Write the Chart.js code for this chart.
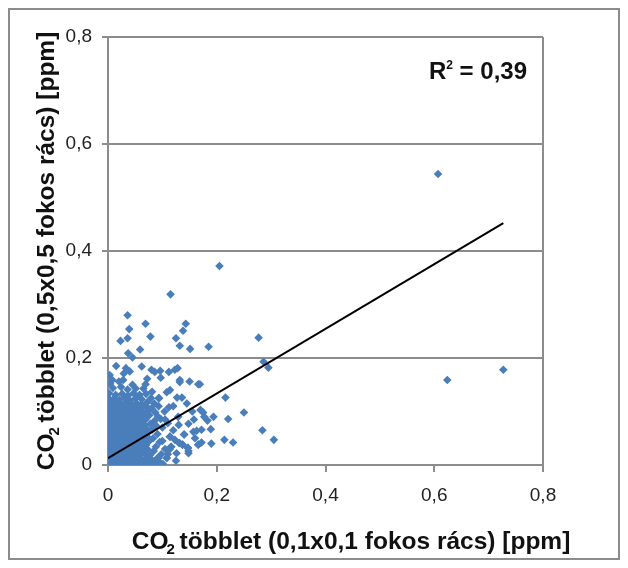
<!DOCTYPE html>
<html>
<head>
<meta charset="utf-8">
<script src="https://cdn.jsdelivr.net/npm/chart.js@4/dist/chart.umd.min.js"></script>
<style>
  body { margin: 0; background: #fff; }
  canvas { display: block; }
</style>
</head>
<body>
<canvas id="chart" width="628" height="568"></canvas>
<script>
// CO2 excess: 0.1x0.1 degree grid (x) vs 0.5x0.5 degree grid (y), ppm
const axisTicks = [0, 0.2, 0.4, 0.6, 0.8];

// dense cluster near the origin
const clusterPoints = [
    [0.001, 0.003], [0.007, 0.002], [0.013, 0.004], [0.020, 0.001], [0.026, 0.003], [0.033, 0.002], [0.041, 0.004], [0.048, 0.002], [0.056, 0.003], [0.066, 0.002], [0.075, 0.004], [0.086, 0.003], [0.094, 0.006], [0.101, 0.002],
    [0.002, 0.011], [0.008, 0.010], [0.015, 0.012], [0.021, 0.009], [0.028, 0.011], [0.035, 0.010], [0.042, 0.012], [0.049, 0.010], [0.057, 0.011], [0.064, 0.009], [0.071, 0.012], [0.080, 0.010], [0.091, 0.013], [0.108, 0.013],
    [0.001, 0.019], [0.006, 0.018], [0.012, 0.020], [0.018, 0.017], [0.025, 0.019], [0.031, 0.021], [0.038, 0.018], [0.046, 0.020], [0.053, 0.017], [0.061, 0.019], [0.069, 0.021], [0.077, 0.018], [0.098, 0.020], [0.126, 0.022], [0.148, 0.022],
    [0.003, 0.027], [0.009, 0.026], [0.016, 0.028], [0.022, 0.025], [0.029, 0.027], [0.036, 0.029], [0.043, 0.026], [0.050, 0.028], [0.058, 0.025], [0.065, 0.027], [0.073, 0.029], [0.084, 0.026], [0.105, 0.030], [0.114, 0.030],
    [0.001, 0.035], [0.007, 0.034], [0.013, 0.036], [0.020, 0.033], [0.027, 0.035], [0.034, 0.037], [0.040, 0.034], [0.047, 0.036], [0.055, 0.033], [0.062, 0.035], [0.070, 0.037], [0.088, 0.034], [0.116, 0.034], [0.137, 0.038], [0.147, 0.032],
    [0.002, 0.043], [0.008, 0.042], [0.015, 0.044], [0.022, 0.041], [0.030, 0.043], [0.037, 0.045], [0.044, 0.042], [0.051, 0.044], [0.059, 0.041], [0.067, 0.043], [0.076, 0.045], [0.095, 0.043], [0.131, 0.041], [0.166, 0.038],
    [0.001, 0.051], [0.006, 0.050], [0.012, 0.052], [0.019, 0.049], [0.026, 0.051], [0.033, 0.053], [0.040, 0.050], [0.048, 0.052], [0.055, 0.049], [0.063, 0.051], [0.072, 0.053], [0.083, 0.050], [0.114, 0.053], [0.123, 0.047],
    [0.003, 0.059], [0.009, 0.058], [0.016, 0.060], [0.023, 0.057], [0.029, 0.059], [0.036, 0.061], [0.043, 0.058], [0.051, 0.060], [0.058, 0.057], [0.066, 0.059], [0.074, 0.061], [0.091, 0.058], [0.140, 0.057], [0.157, 0.062],
    [0.001, 0.067], [0.007, 0.066], [0.014, 0.068], [0.021, 0.065], [0.028, 0.067], [0.034, 0.069], [0.041, 0.066], [0.048, 0.068], [0.056, 0.065], [0.062, 0.067], [0.070, 0.069], [0.081, 0.066], [0.100, 0.070], [0.163, 0.064], [0.172, 0.066],
    [0.002, 0.075], [0.008, 0.074], [0.015, 0.076], [0.022, 0.073], [0.030, 0.075], [0.037, 0.077], [0.044, 0.074], [0.052, 0.076], [0.059, 0.073], [0.067, 0.075], [0.078, 0.077], [0.088, 0.074], [0.110, 0.078], [0.148, 0.077],
    [0.001, 0.083], [0.006, 0.082], [0.013, 0.084], [0.019, 0.081], [0.026, 0.083], [0.033, 0.085], [0.040, 0.082], [0.047, 0.084], [0.054, 0.081], [0.061, 0.083], [0.069, 0.085], [0.085, 0.082], [0.097, 0.086],
    [0.003, 0.091], [0.009, 0.090], [0.016, 0.092], [0.023, 0.089], [0.030, 0.091], [0.037, 0.093], [0.045, 0.090], [0.052, 0.092], [0.060, 0.089], [0.068, 0.091], [0.076, 0.093], [0.092, 0.090], [0.129, 0.090],
    [0.001, 0.099], [0.008, 0.098], [0.015, 0.100], [0.021, 0.097], [0.028, 0.099], [0.035, 0.101], [0.042, 0.098], [0.050, 0.100], [0.057, 0.097], [0.064, 0.099], [0.073, 0.101], [0.087, 0.098], [0.104, 0.100],
    [0.002, 0.107], [0.007, 0.106], [0.014, 0.108], [0.020, 0.105], [0.027, 0.107], [0.034, 0.109], [0.041, 0.106], [0.049, 0.108], [0.056, 0.105], [0.063, 0.107], [0.071, 0.109], [0.080, 0.106], [0.093, 0.110], [0.112, 0.108],
    [0.001, 0.115], [0.009, 0.114], [0.017, 0.116], [0.025, 0.113], [0.033, 0.117], [0.043, 0.114], [0.052, 0.116], [0.061, 0.113], [0.072, 0.117], [0.085, 0.115], [0.094, 0.125],
    [0.003, 0.123], [0.011, 0.124], [0.021, 0.122], [0.031, 0.125], [0.040, 0.121], [0.050, 0.124], [0.062, 0.123], [0.079, 0.125], [0.093, 0.125],
    [0.002, 0.134], [0.014, 0.131], [0.026, 0.133], [0.037, 0.130], [0.047, 0.134], [0.058, 0.131], [0.070, 0.133], [0.108, 0.136], [0.127, 0.126], [0.136, 0.126],
    [0.009, 0.144], [0.024, 0.146], [0.036, 0.141], [0.051, 0.143], [0.065, 0.143], [0.081, 0.137], [0.114, 0.140],
    [0.004, 0.152], [0.020, 0.156], [0.045, 0.150], [0.069, 0.151], [0.072, 0.161], [0.028, 0.159], [0.008, 0.159], [0.132, 0.155], [0.150, 0.156], [0.166, 0.151], [0.097, 0.163], [0.132, 0.159],
    [0.029, 0.171], [0.033, 0.181], [0.062, 0.184], [0.080, 0.178], [0.096, 0.176], [0.112, 0.174], [0.123, 0.178], [0.128, 0.181], [0.086, 0.174], [0.003, 0.168], [0.015, 0.185], [0.040, 0.175]
];

// scattered points around the cluster
const spreadPoints = [
    [0.045, 0.201], [0.037, 0.209], [0.059, 0.216], [0.023, 0.232], [0.036, 0.237], [0.078, 0.240], [0.039, 0.254], [0.069, 0.264],
    [0.036, 0.280], [0.115, 0.319], [0.125, 0.237], [0.138, 0.251], [0.143, 0.264], [0.132, 0.223], [0.151, 0.217], [0.185, 0.221],
    [0.205, 0.372], [0.277, 0.238], [0.286, 0.193], [0.295, 0.182],
    [0.216, 0.126], [0.169, 0.151], [0.250, 0.098], [0.221, 0.086], [0.194, 0.090], [0.183, 0.083], [0.175, 0.098], [0.170, 0.103],
    [0.189, 0.067], [0.284, 0.065], [0.305, 0.047], [0.214, 0.047], [0.230, 0.042], [0.172, 0.042], [0.177, 0.090], [0.114, 0.053],
    [0.116, 0.034], [0.140, 0.057], [0.131, 0.041], [0.137, 0.038], [0.147, 0.032], [0.148, 0.026], [0.166, 0.038], [0.108, 0.013],
    [0.093, 0.013], [0.120, 0.110], [0.145, 0.115], [0.155, 0.100], [0.158, 0.085], [0.120, 0.065], [0.105, 0.085], [0.130, 0.075],
    [0.100, 0.045], [0.110, 0.020], [0.125, 0.008], [0.160, 0.050], [0.190, 0.040]
];

const outlierPoints = [[0.607, 0.544], [0.624, 0.159], [0.727, 0.178]];

// linear trend line end points
const trendX = [0, 0.727];
const trendY = [0.013, 0.452];
const rSquared = '0,39';

const xTitle = ['CO', '2', ' többlet (0,1x0,1 fokos rács) [ppm]'];
const yTitle = ['CO', '2', ' többlet (0,5x0,5 fokos rács) [ppm]'];

const gray = '#8c8c8c';
const blue = '#4a7ebb';
const fontFamily = '"Liberation Sans", Arial, sans-serif';

const toPoint = p => ({ x: p[0], y: p[1] });
const scatterData = clusterPoints.concat(spreadPoints, outlierPoints).map(toPoint);
const trendData = trendX.map((x, i) => ({ x: x, y: trendY[i] }));

function fmt(v) {
    return String(v).replace('.', ',');
}

// draws "CO" + subscript "2" + rest, centred on 0,0
function drawSubTitle(ctx, parts) {
    const big = 'bold 24.5px ' + fontFamily;
    const small = 'bold 15px ' + fontFamily;
    ctx.font = big;
    const w1 = ctx.measureText(parts[0]).width;
    const w3 = ctx.measureText(parts[2]).width;
    ctx.font = small;
    const w2 = ctx.measureText(parts[1]).width - 2;
    let x = -(w1 + w2 + w3) / 2;
    ctx.textAlign = 'left';
    ctx.textBaseline = 'alphabetic';
    ctx.font = big;
    ctx.fillText(parts[0], x, 9);
    x += w1 - 2;
    ctx.font = small;
    ctx.fillText(parts[1], x, 14);
    x += w2;
    ctx.font = big;
    ctx.fillText(parts[2], x, 9);
}

const textPlugin = {
    id: 'textPlugin',
    beforeDraw(chart) {
        const ctx = chart.ctx;
        ctx.save();
        ctx.strokeStyle = gray;
        ctx.lineWidth = 2;
        ctx.strokeRect(9, 9, 610, 550);
        ctx.restore();
    },
    afterDraw(chart) {
        const ctx = chart.ctx;
        const area = chart.chartArea;
        ctx.save();
        ctx.fillStyle = '#111';

        ctx.save();
        ctx.translate(352, 540);
        drawSubTitle(ctx, xTitle);
        ctx.restore();

        ctx.save();
        ctx.translate(45, 250);
        ctx.rotate(-Math.PI / 2);
        drawSubTitle(ctx, yTitle);
        ctx.restore();

        // R² label
        const big = 'bold 24px ' + fontFamily;
        const small = 'bold 12px ' + fontFamily;
        ctx.textBaseline = 'alphabetic';
        ctx.textAlign = 'left';
        ctx.font = big;
        const rest = ' = ' + rSquared;
        const wr = ctx.measureText('R').width;
        const wrest = ctx.measureText(rest).width;
        ctx.font = small;
        const w2 = ctx.measureText('2').width;
        let x = area.right - 16 - (wr + w2 + wrest);
        const y = area.top + 42;
        ctx.font = big;
        ctx.fillText('R', x, y);
        ctx.font = small;
        ctx.fillText('2', x + wr, y - 10);
        ctx.font = big;
        ctx.fillText(rest, x + wr + w2, y);
        ctx.restore();
    }
};

const tickFont = { family: fontFamily, size: 19 };

new Chart(document.getElementById('chart'), {
    type: 'scatter',
    data: {
        datasets: [
            {
                data: trendData,
                type: 'line',
                showLine: true,
                borderColor: '#000',
                borderWidth: 2,
                pointRadius: 0,
                fill: false,
                order: 1
            },
            {
                data: scatterData,
                pointStyle: 'rectRot',
                pointRadius: 4.3,
                backgroundColor: blue,
                borderColor: blue,
                borderWidth: 0,
                order: 2
            }
        ]
    },
    options: {
        responsive: false,
        animation: false,
        devicePixelRatio: 1,
        layout: { padding: { top: 37, right: 85, left: 0, bottom: 0 } },
        plugins: {
            legend: { display: false },
            tooltip: { enabled: false }
        },
        scales: {
            x: {
                type: 'linear',
                min: 0,
                max: 0.8,
                afterBuildTicks: function (scale) {
                    scale.ticks = axisTicks.map(v => ({ value: v }));
                },
                afterFit: function (scale) {
                    scale.height = 103;
                },
                ticks: {
                    callback: v => fmt(v),
                    font: tickFont,
                    color: '#222',
                    padding: 12,
                    maxRotation: 0
                },
                grid: {
                    color: c => (c.tick && c.tick.value === 0.8 ? gray : 'rgba(0,0,0,0)'),
                    lineWidth: 2,
                    tickColor: gray,
                    tickLength: 7,
                    tickWidth: 2
                },
                border: { color: gray, width: 2 }
            },
            y: {
                type: 'linear',
                min: 0,
                max: 0.8,
                afterBuildTicks: function (scale) {
                    scale.ticks = axisTicks.map(v => ({ value: v }));
                },
                afterFit: function (scale) {
                    scale.width = 108;
                },
                ticks: {
                    callback: v => fmt(v),
                    font: tickFont,
                    color: '#222',
                    padding: 10
                },
                grid: {
                    color: gray,
                    lineWidth: 2,
                    tickColor: gray,
                    tickLength: 6,
                    tickWidth: 2
                },
                border: { color: gray, width: 2 }
            }
        }
    },
    plugins: [textPlugin]
});
</script>
</body>
</html>
